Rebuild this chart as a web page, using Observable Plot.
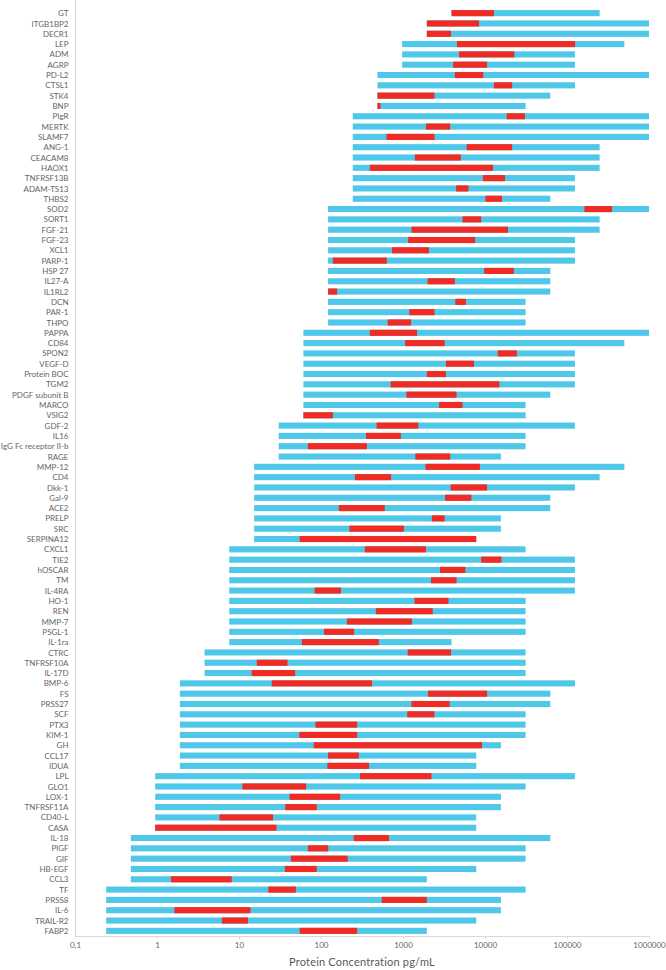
<!DOCTYPE html>
<html>
<head>
<meta charset="utf-8">
<script src="https://cdn.jsdelivr.net/npm/d3@7"></script>
<script src="https://cdn.jsdelivr.net/npm/@observablehq/plot@0.6"></script>
<style>
  body { margin: 0; background: #fff; font-family: Lato, "Open Sans", sans-serif; }
  #chart svg { display: block; }
  #title { width: 666px; height: 20px; line-height: 20px; font-size: 11px; color: #595959; text-align: center; padding-left: 58px; box-sizing: border-box; letter-spacing: 0.2px; }
</style>
</head>
<body>
<div id="chart"></div>
<div id="title">Protein Concentration pg/mL</div>
<script>
const proteins = ["GT","ITGB1BP2","DECR1","LEP","ADM","AGRP","PD-L2","CTSL1","STK4","BNP",
  "PIgR","MERTK","SLAMF7","ANG-1","CEACAM8","HAOX1","TNFRSF13B","ADAM-TS13","THBS2","SOD2",
  "SORT1","FGF-21","FGF-23","XCL1","PARP-1","HSP 27","IL27-A","IL1RL2","DCN","PAR-1",
  "THPO","PAPPA","CD84","SPON2","VEGF-D","Protein BOC","TGM2","PDGF subunit B","MARCO","VSIG2",
  "GDF-2","IL16","IgG Fc receptor II-b","RAGE","MMP-12","CD4","Dkk-1","Gal-9","ACE2","PRELP",
  "SRC","SERPINA12","CXCL1","TIE2","hOSCAR","TM","IL-4RA","HO-1","REN","MMP-7",
  "PSGL-1","IL-1ra","CTRC","TNFRSF10A","IL-17D","BMP-6","FS","PRSS27","SCF","PTX3",
  "KIM-1","GH","CCL17","IDUA","LPL","GLO1","LOX-1","TNFRSF11A","CD40-L","CASA",
  "IL-18","PlGF","GIF","HB-EGF","CCL3","TF","PRSS8","IL-6","TRAIL-R2","FABP2"];

const rangeLow = [3906,1953,1953,977,977,977,488,488,488,488,
  244,244,244,244,244,244,244,244,244,122,
  122,122,122,122,122,122,122,122,122,122,
  122,61,61,61,61,61,61,61,61,61,
  30.5,30.5,30.5,30.5,15.3,15.3,15.3,15.3,15.3,15.3,
  15.3,15.3,7.6,7.6,7.6,7.6,7.6,7.6,7.6,7.6,
  7.6,7.6,3.8,3.8,3.8,1.9,1.9,1.9,1.9,1.9,
  1.9,1.9,1.9,1.9,0.95,0.95,0.95,0.95,0.95,0.95,
  0.48,0.48,0.48,0.48,0.48,0.24,0.24,0.24,0.24,0.24];

const rangeHigh = [250000,1000000,1000000,500000,125000,125000,1000000,125000,62500,31250,
  1000000,1000000,1000000,250000,250000,250000,125000,125000,62500,1000000,
  250000,250000,125000,125000,125000,62500,62500,62500,31250,31250,
  31250,1000000,500000,125000,125000,125000,125000,62500,31250,31250,
  125000,31250,31250,15625,500000,250000,125000,62500,62500,15625,
  15625,7813,31250,125000,125000,125000,125000,31250,31250,31250,
  31250,3906,31250,31250,31250,125000,62500,62500,31250,31250,
  31250,15625,7813,7813,125000,31250,15625,15625,7813,7813,
  62500,31250,31250,7813,1953,31250,15625,15625,7813,1953];

const measuredLow = [3906,1953,1953,4550,4830,4087,4290,12850,488,488,
  18380,1905,628,5990,1396,394,9420,4443,10120,163100,
  5314,1270,1154,733,139.7,9760,1997,122,4338,1196,
  651,394,1061,14300,3336,1953,707,1100,2756,61,
  477,354,69.1,1414,1882,259.7,3805,3258,165,2251,
  222.5,55,342,8983,2823,2198,83.6,1380,466,207,
  108.7,58.5,1140,16.5,14.3,25.06,2022,1270,1127,85.6,
  54.4,81.6,121.7,119.6,299.7,11.0,41.4,36.7,5.78,0.95,
  250.6,69.1,42.9,36.3,1.48,22.8,551,1.63,6.2,55];

const measuredHigh = [12850,8460,3850,125400,22780,10600,9530,21460,2418,531,
  30690,3760,2418,21460,5065,12540,17520,6280,16120,354200,
  8983,19050,7600,2071,635,22510,4290,157,5848,2418,
  1254,1483,3219,24470,7335,3336,15000,4495,5314,139.7,
  1537,942,363,3760,8665,716,10600,6828,599,3219,
  1024,7813,1905,15900,5778,4495,175.2,3584,2305,1285,
  253.6,506.6,3850,39,48.3,418.6,10600,3715,2418,275.6,
  275.6,9200,289,385,2225,65.9,171,88.8,25.97,28.6,
  675,122.5,212,88.8,8.16,49.4,1953,13.8,12.85,275.6];

const xTicks = [0.1, 1, 10, 100, 1000, 10000, 100000, 1000000];
const xTickLabels = ["0,1", "1", "10", "100", "1000", "10000", "100000", "1000000"];

const rows = proteins.map((p, i) => ({
  protein: p, lo: rangeLow[i], hi: rangeHigh[i], mlo: measuredLow[i], mhi: measuredHigh[i]
}));

const gray = "#666666";
const chart = Plot.plot({
  width: 666,
  height: 952,
  marginLeft: 75,
  marginRight: 17,
  marginTop: 0,
  marginBottom: 16,
  style: { fontFamily: "Lato, 'Open Sans', sans-serif", fontSize: "8px", color: gray, background: "#fff" },
  x: { type: "log", domain: [0.1, 1000000], range: [75, 649] },
  y: { domain: proteins, range: [8, 936], padding: 0, round: false },
  marks: [
    Plot.barX(rows, { y: "protein", x1: "lo", x2: "hi", fill: "#4FC7E8", insetTop: 2.1, insetBottom: 2.1 }),
    Plot.barX(rows, { y: "protein", x1: "mlo", x2: "mhi", fill: "#EF2B24", insetTop: 2.1, insetBottom: 2.1 }),
    Plot.ruleX([0.1], { stroke: "#d9d9d9", strokeWidth: 1.2 }),
    Plot.axisY({ tickSize: 0, tickPadding: 7, label: null, fill: gray, fontSize: 8 }),
    Plot.axisX({ ticks: xTicks, tickFormat: (d) => xTickLabels[xTicks.indexOf(d)], tickSize: 3, tickPadding: 3, stroke: "#d9d9d9", fill: gray, label: null, fontSize: 8 }),
    Plot.frame({ anchor: "bottom", stroke: "#d9d9d9" })
  ]
});
document.getElementById("chart").appendChild(chart);
</script>
</body>
</html>
